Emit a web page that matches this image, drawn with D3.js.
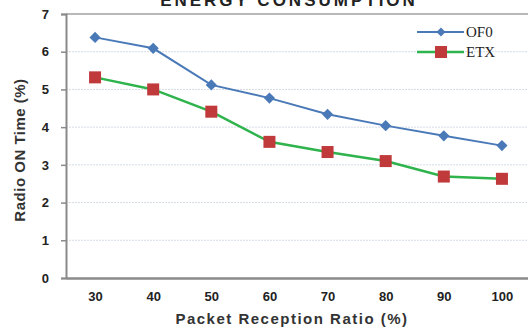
<!DOCTYPE html>
<html>
<head>
<meta charset="utf-8">
<script src="https://cdn.jsdelivr.net/npm/d3@7"></script>
<style>
  body { margin: 0; background: #fff; }
  svg { display: block; }
</style>
</head>
<body>
<div id="chart"></div>
<script>
// data
const ratios = [30, 40, 50, 60, 70, 80, 90, 100]
const of0 = [6.38, 6.09, 5.12, 4.77, 4.34, 4.04, 3.77, 3.51]
const etx = [5.32, 5.0, 4.41, 3.61, 3.34, 3.1, 2.69, 2.63]
const yTicks = [0, 1, 2, 3, 4, 5, 6, 7]
const seriesNames = ['OF0', 'ETX']

const width = 528
const height = 330
const plot = { left: 66, right: 531, top: 14, bottom: 278 }

const xScale = d3.scalePoint().domain(ratios).range([plot.left, plot.right]).padding(0.5)
const yScale = d3.scaleLinear().domain([0, 7]).range([plot.bottom, plot.top])

const svg = d3.select('#chart').append('svg').attr('width', width).attr('height', height)

// title, mostly cut off at the top
svg.append('text')
  .attr('x', 289).attr('y', 6)
  .attr('text-anchor', 'middle')
  .attr('font-family', 'Liberation Sans, Arial, sans-serif')
  .attr('font-weight', 'bold')
  .attr('font-size', 17)
  .attr('letter-spacing', 3)
  .attr('fill', '#222')
  .text('ENERGY CONSUMPTION')

// grid lines
svg.append('g').selectAll('line')
  .data(yTicks.filter(d => d > 0 && d < 7))
  .join('line')
  .attr('x1', plot.left).attr('x2', plot.right)
  .attr('y1', d => yScale(d)).attr('y2', d => yScale(d))
  .attr('stroke', '#d4dbe6').attr('stroke-width', 1)
  .attr('stroke-dasharray', '2,1')

// frame top
svg.append('line')
  .attr('x1', plot.left).attr('x2', plot.right)
  .attr('y1', plot.top).attr('y2', plot.top)
  .attr('stroke', '#a0a0a0').attr('stroke-width', 1.5)

// y axis
const yAxis = svg.append('g')
  .attr('transform', `translate(${plot.left},0)`)
  .call(d3.axisLeft(yScale).tickValues(yTicks).tickSize(5).tickPadding(12).tickFormat(d3.format('d')))
yAxis.select('.domain').attr('stroke', '#8a8a8a').attr('stroke-width', 2)
yAxis.selectAll('.tick line').attr('stroke', '#8a8a8a').attr('stroke-width', 1.5)
yAxis.selectAll('.tick text')
  .attr('font-family', 'Liberation Sans, Arial, sans-serif')
  .attr('font-weight', 'bold').attr('font-size', 13).attr('fill', '#222')

// x axis
const xAxis = svg.append('g')
  .attr('transform', `translate(0,${plot.bottom})`)
  .call(d3.axisBottom(xScale).tickSize(0).tickPadding(14))
xAxis.select('.domain').attr('stroke', '#8a8a8a').attr('stroke-width', 2.5)
xAxis.selectAll('.tick text')
  .attr('font-family', 'Liberation Sans, Arial, sans-serif')
  .attr('font-weight', 'bold').attr('font-size', 13).attr('fill', '#222')

// axis titles
svg.append('text')
  .attr('x', 292).attr('y', 324)
  .attr('text-anchor', 'middle')
  .attr('font-family', 'Liberation Sans, Arial, sans-serif')
  .attr('font-weight', 'bold').attr('font-size', 15)
  .attr('letter-spacing', 1.5)
  .attr('fill', '#333')
  .text('Packet Reception Ratio (%)')

svg.append('text')
  .attr('transform', 'translate(25,150) rotate(-90)')
  .attr('text-anchor', 'middle')
  .attr('font-family', 'Liberation Sans, Arial, sans-serif')
  .attr('font-weight', 'bold').attr('font-size', 15)
  .attr('letter-spacing', 0.5)
  .attr('fill', '#333')
  .text('Radio ON Time (%)')

// lines
const line = d3.line().x((d, i) => xScale(ratios[i])).y(d => yScale(d))
const blue = '#4a79b8'
const green = '#2fb34c'
const red = '#c0393b'

svg.append('path').datum(of0).attr('d', line)
  .attr('fill', 'none').attr('stroke', blue).attr('stroke-width', 2)
svg.append('path').datum(etx).attr('d', line)
  .attr('fill', 'none').attr('stroke', green).attr('stroke-width', 2.5)

const diamond = d3.symbol().type(d3.symbolSquare).size(62)
svg.append('g').selectAll('path')
  .data(of0)
  .join('path')
  .attr('d', diamond)
  .attr('transform', (d, i) => `translate(${xScale(ratios[i])},${yScale(d)}) rotate(45)`)
  .attr('fill', blue)

svg.append('g').selectAll('rect')
  .data(etx)
  .join('rect')
  .attr('x', (d, i) => xScale(ratios[i]) - 6)
  .attr('y', d => yScale(d) - 6)
  .attr('width', 12).attr('height', 12)
  .attr('fill', red)

// legend
const legend = svg.append('g').attr('transform', 'translate(417,32)')
seriesNames.forEach((name, i) => {
  const g = legend.append('g').attr('transform', `translate(0,${i * 20})`)
  g.append('line').attr('x1', 0).attr('x2', 47)
    .attr('stroke', i === 0 ? blue : green).attr('stroke-width', i === 0 ? 2 : 2.5)
  if (i === 0) {
    g.append('path').attr('d', d3.symbol().type(d3.symbolSquare).size(40)())
      .attr('transform', 'translate(24,0) rotate(45)').attr('fill', blue)
  } else {
    g.append('rect').attr('x', 18).attr('y', -6).attr('width', 12).attr('height', 12).attr('fill', red)
  }
  g.append('text').attr('x', 49).attr('y', 5)
    .attr('font-family', 'Liberation Serif, Times New Roman, serif')
    .attr('font-size', 15).attr('fill', '#222')
    .text(name)
})
</script>
</body>
</html>
